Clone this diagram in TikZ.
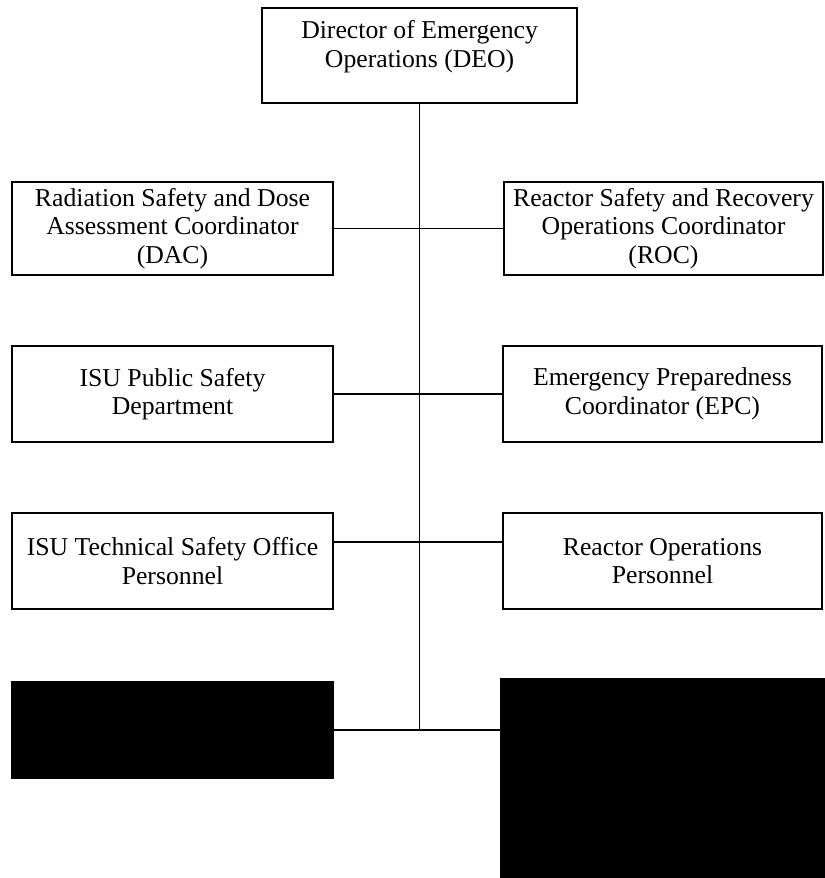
\documentclass[tikz,border=0pt]{standalone}
\usepackage{fontspec}
\setmainfont{Liberation Serif}

\begin{document}

\begin{tikzpicture}[
	box/.style = {draw, line width = 1.1pt, align = flush center, text width = 7.8cm,
		inner xsep = 0pt, inner ysep = 2pt, minimum height = 2.4cm,
		font = \fontsize{18.3}{20.3}\selectfont},
	blackbox/.style = {draw, fill = black, line width = 1.1pt, inner sep = 0pt},
	link/.style = {line width = 1.1pt}]

	% Page size
	
	\useasboundingbox (0, 0) rectangle (20.6, -21.95);
	
	% Column centres
	
	\def\L{4.3125}
	\def\R{16.5625}
	
	% Top box
	
	\node [box, minimum width = 7.875cm, minimum height = 2.375cm] (deo) at (10.49, -1.39)
		{Director of Emergency\\ Operations (DEO)\\[-4pt]\mbox{}};
	
	% Left column
	
	\node [box, minimum width = 8.025cm, minimum height = 2.325cm] (dac) at (\L, -5.71)
		{Radiation Safety and Dose\\ Assessment Coordinator\\ (DAC)};
	\node [box, minimum width = 8.025cm] (ps) at (\L, -9.85)
		{ISU Public Safety\\ Department};
	\node [box, minimum width = 8.025cm] (tso) at (\L, -14.025)
		{ISU Technical Safety Office\\ Personnel};
	\node [blackbox, minimum width = 8.025cm, minimum height = 2.4cm] (lblk) at (\L, -18.25) {};
	
	% Right column
	
	\node [box, minimum width = 7.975cm, minimum height = 2.325cm] (roc) at (16.5875, -5.71)
		{Reactor Safety and Recovery\\ Operations Coordinator\\ (ROC)};
	\node [box, minimum width = 7.975cm] (epc) at (\R, -9.85)
		{Emergency Preparedness\\ Coordinator (EPC)};
	\node [box, minimum width = 7.975cm] (ro) at (\R, -14.025)
		{Reactor Operations\\ Personnel};
	\node [blackbox, minimum width = 8.075cm, minimum height = 4.975cm] (rblk) at (\R, -19.4625) {};
	
	% Trunk and branches
	
	\coordinate (base) at (deo.south |- lblk.east);
	
	\begin{scope}[link]
	
		\draw (deo.south) -- (base);
		
		\draw (dac.east) -- (roc.west);
		\draw (ps.east) -- (epc.west);
		\draw ([yshift = 0.475cm] tso.east) -- ([yshift = 0.475cm] ro.west);
		\draw (lblk.east) -- (lblk.east -| rblk.west);
		
	\end{scope}
		
\end{tikzpicture}

\end{document}
